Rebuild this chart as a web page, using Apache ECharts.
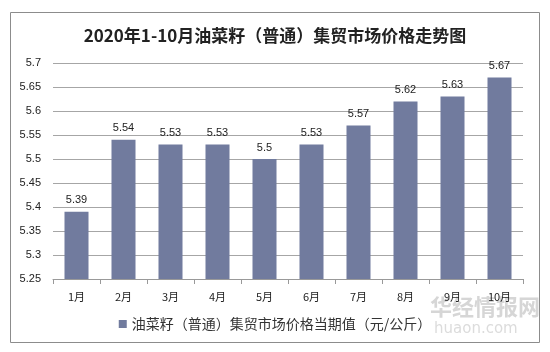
<!DOCTYPE html>
<html>
<head>
<meta charset="utf-8">
<script src="https://cdn.jsdelivr.net/npm/echarts@6/dist/echarts.min.js"></script>
<style>
  html, body { margin: 0; padding: 0; background: #fff; }
  #chart { width: 550px; height: 352px; }
</style>
</head>
<body>
<div id="chart"></div>
<script>
  var months = ['1月', '2月', '3月', '4月', '5月', '6月', '7月', '8月', '9月', '10月']
  var prices = [5.39, 5.54, 5.53, 5.53, 5.5, 5.53, 5.57, 5.62, 5.63, 5.67]
  var seriesName = '油菜籽（普通）集贸市场价格当期值（元/公斤）'
  var titleText = '2020年1-10月油菜籽（普通）集贸市场价格走势图'

  var chart = echarts.init(document.getElementById('chart'))
  chart.setOption({
    animation: false,
    title: {
      text: titleText,
      left: 'center',
      top: 22,
      textStyle: {
        fontFamily: 'Noto Sans CJK SC',
        fontSize: 17,
        fontWeight: 'bold',
        color: '#222'
      }
    },
    graphic: [{
      type: 'rect',
      shape: { x: 10.5, y: 12.5, width: 529, height: 330 },
      style: { fill: 'none', stroke: '#8c8c8c', lineWidth: 1 },
      z: -1
    }, {
      type: 'text',
      left: 430,
      top: 296,
      style: { text: '华经情报网', fill: '#d6d6d6', fontSize: 22, fontWeight: 'bold', fontFamily: 'Noto Sans CJK SC' }
    }, {
      type: 'text',
      left: 434,
      top: 322,
      style: { text: 'huaon.com', fill: '#dcdcdc', fontSize: 15, fontFamily: 'DejaVu Sans' }
    }],
    legend: {
      bottom: 16,
      left: 'center',
      itemWidth: 8,
      itemHeight: 8,
      itemGap: 4,
      icon: 'rect',
      textStyle: { fontSize: 14, color: '#333', fontFamily: 'Noto Sans CJK SC' }
    },
    grid: { left: 53, right: 27, top: 63, bottom: 73 },
    xAxis: {
      type: 'category',
      data: months,
      axisLine: { lineStyle: { color: '#999' } },
      axisTick: { show: true, lineStyle: { color: '#999' } },
      axisLabel: { color: '#222', fontSize: 11, margin: 12, fontFamily: 'Noto Sans CJK SC' }
    },
    yAxis: {
      type: 'value',
      min: 5.25,
      max: 5.7,
      interval: 0.05,
      axisLine: { show: false },
      axisTick: { show: false },
      axisLabel: {
        color: '#222',
        fontSize: 11,
        margin: 12,
        fontFamily: 'Liberation Sans',
        formatter: function (v) { return String(parseFloat(v.toFixed(2))) }
      },
      splitLine: { lineStyle: { color: '#a6a6a6' } }
    },
    series: [{
      name: seriesName,
      type: 'bar',
      data: prices,
      barWidth: 24,
      itemStyle: { color: '#717b9e' },
      label: {
        show: true,
        position: 'top',
        distance: 6,
        color: '#222',
        fontSize: 11,
        fontFamily: 'Liberation Sans'
      }
    }]
  })
</script>
</body>
</html>
